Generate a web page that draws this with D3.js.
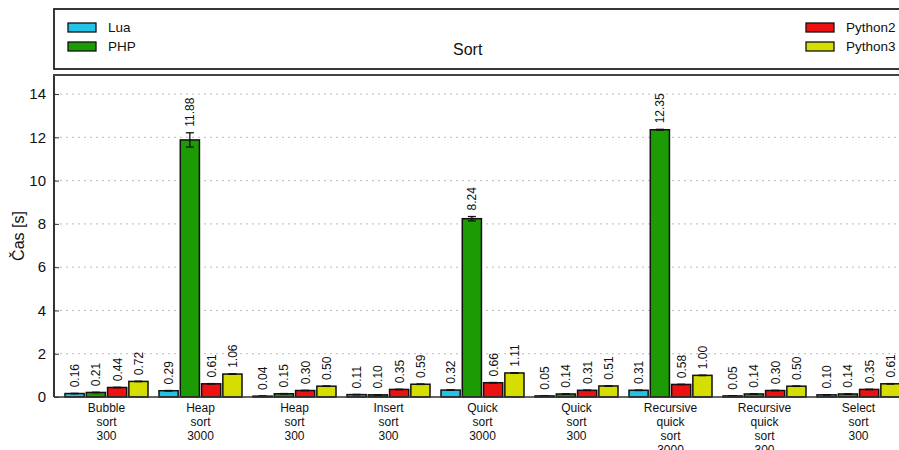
<!DOCTYPE html>
<html><head><meta charset="utf-8">
<script src="https://cdn.jsdelivr.net/npm/d3@7/dist/d3.min.js"></script>
<style>
body{margin:0;background:#fff;}
svg{display:block;font-family:"Liberation Sans",Arial,sans-serif;}
</style></head>
<body><svg id="c" width="899" height="450"></svg>
<script>
const categories = [["Bubble","sort","300"],["Heap","sort","3000"],["Heap","sort","300"],["Insert","sort","300"],["Quick","sort","3000"],["Quick","sort","300"],["Recursive","quick","sort","3000"],["Recursive","quick","sort","300"],["Select","sort","300"]];
const series = ["Lua","PHP","Python2","Python3"];
const colors = ["#22c3e6","#1c9b04","#ee1111","#d5de00"];
const lua     = [0.16,0.29,0.04,0.11,0.32,0.05,0.31,0.05,0.10];
const php     = [0.21,11.88,0.15,0.10,8.24,0.14,12.35,0.14,0.14];
const python2 = [0.44,0.61,0.30,0.35,0.66,0.31,0.58,0.30,0.35];
const python3 = [0.72,1.06,0.50,0.59,1.11,0.51,1.00,0.50,0.61];
const errLua     = [0.01,0.01,0.01,0.01,0.01,0.01,0.01,0.01,0.01];
const errPhp     = [0.01,0.33,0.01,0.01,0.10,0.01,0.02,0.01,0.01];
const errPython2 = [0.01,0.01,0.01,0.01,0.01,0.01,0.01,0.01,0.01];
const errPython3 = [0.01,0.01,0.01,0.01,0.01,0.01,0.01,0.01,0.01];
const yTicks = [0,2,4,6,8,10,12,14];
const title = "Sort";
const yLabel = "Čas [s]";

const values = [lua, php, python2, python3];
const errs = [errLua, errPhp, errPython2, errPython3];
const keys = categories.map(c => c.join(" "));

const svg = d3.select("#c");
const L = 54, T = 75, B = 397, R = 920;

const x0 = d3.scaleBand().domain(keys).range([59.5, 59.5 + 9*94]).paddingInner(0).paddingOuter(0);
const x1 = d3.scaleBand().domain(series).range([5.5, 88.5]).paddingInner(0.1);
const y = d3.scaleLinear().domain([0, 14.88]).range([B, T]);

// grid
svg.append("g").selectAll("line").data(yTicks.filter(t => t > 0)).join("line")
  .attr("x1", L).attr("x2", R).attr("y1", d => y(d)).attr("y2", d => y(d))
  .attr("stroke", "#bbb").attr("stroke-width", 1).attr("stroke-dasharray", "2,4");

// y axis
const ya = svg.append("g").attr("transform", `translate(${L},0)`)
  .call(d3.axisLeft(y).tickValues(yTicks).tickSize(-5).tickPadding(8).tickFormat(d3.format("d")));
ya.select(".domain").remove();
ya.selectAll(".tick line").attr("stroke", "#333");
ya.selectAll(".tick text").attr("font-size", 15).attr("fill", "#111").attr("font-family", "Liberation Sans, Arial, sans-serif");

// bars
const flat = [];
keys.forEach((k, i) => series.forEach((s, j) => flat.push({k, s, j, v: values[j][i], e: errs[j][i]})));
const g = svg.append("g");
g.selectAll("rect").data(flat).join("rect")
  .attr("x", d => x0(d.k) + x1(d.s)).attr("width", x1.bandwidth())
  .attr("y", d => y(d.v)).attr("height", d => y(0) - y(d.v))
  .attr("fill", d => colors[d.j]).attr("stroke", "#111").attr("stroke-width", 1.5);

// error bars
const eg = svg.append("g").attr("stroke", "#111").attr("stroke-width", 1.3);
flat.forEach(d => {
  const cx = x0(d.k) + x1(d.s) + x1.bandwidth()/2;
  eg.append("line").attr("x1", cx).attr("x2", cx).attr("y1", y(d.v - d.e)).attr("y2", y(d.v + d.e));
  eg.append("line").attr("x1", cx-4).attr("x2", cx+4).attr("y1", y(d.v + d.e)).attr("y2", y(d.v + d.e));
  eg.append("line").attr("x1", cx-4).attr("x2", cx+4).attr("y1", y(d.v - d.e)).attr("y2", y(d.v - d.e));
});

// value labels
svg.append("g").selectAll("text").data(flat).join("text")
  .attr("transform", d => {
    const cx = x0(d.k) + x1(d.s) + x1.bandwidth()/2 + 4.5;
    const top = Math.min(y(d.v), y(d.v + d.e)) - 6;
    return `translate(${cx},${top}) rotate(-90)`;
  })
  .attr("font-size", 12).attr("fill", "#111").text(d => d.v.toFixed(2));

// frame
svg.append("line").attr("x1", L).attr("x2", R).attr("y1", B).attr("y2", B).attr("stroke", "#333").attr("stroke-width", 1.5);
svg.append("line").attr("x1", L).attr("x2", L).attr("y1", T).attr("y2", B).attr("stroke", "#333").attr("stroke-width", 2);
svg.append("line").attr("x1", L-1).attr("x2", R).attr("y1", T).attr("y2", T).attr("stroke", "#444").attr("stroke-width", 2);

// x labels
const xl = svg.append("g").selectAll("text").data(categories).join("text")
  .attr("x", (d, i) => x0(keys[i]) + x0.bandwidth()/2).attr("y", 412)
  .attr("text-anchor", "middle").attr("font-size", 12).attr("fill", "#111");
xl.each(function(d, i) {
  const t = d3.select(this);
  d.forEach((line, k) => t.append("tspan").attr("x", x0(keys[i]) + x0.bandwidth()/2).attr("dy", k === 0 ? 0 : 14).text(line));
});

// y label
svg.append("text").attr("transform", `translate(24,236) rotate(-90)`).attr("text-anchor", "middle")
  .attr("font-size", 16).attr("fill", "#111").text(yLabel);

// legend box
svg.append("rect").attr("x", 54).attr("y", 9).attr("width", 900).attr("height", 60)
  .attr("fill", "none").attr("stroke", "#222").attr("stroke-width", 1.8);
svg.append("text").attr("x", 453).attr("y", 55).attr("font-size", 16).attr("fill", "#111").text(title);
const legPos = [[68,23],[68,42],[806,23],[806,42]];
series.forEach((s, j) => {
  const [lx, ly] = legPos[j];
  svg.append("rect").attr("x", lx).attr("y", ly).attr("width", 28).attr("height", 9)
    .attr("fill", colors[j]).attr("stroke", "#111").attr("stroke-width", 1.3);
  svg.append("text").attr("x", lx + 40).attr("y", ly + 9).attr("font-size", 13.5).attr("fill", "#111").text(s);
});
</script></body></html>
